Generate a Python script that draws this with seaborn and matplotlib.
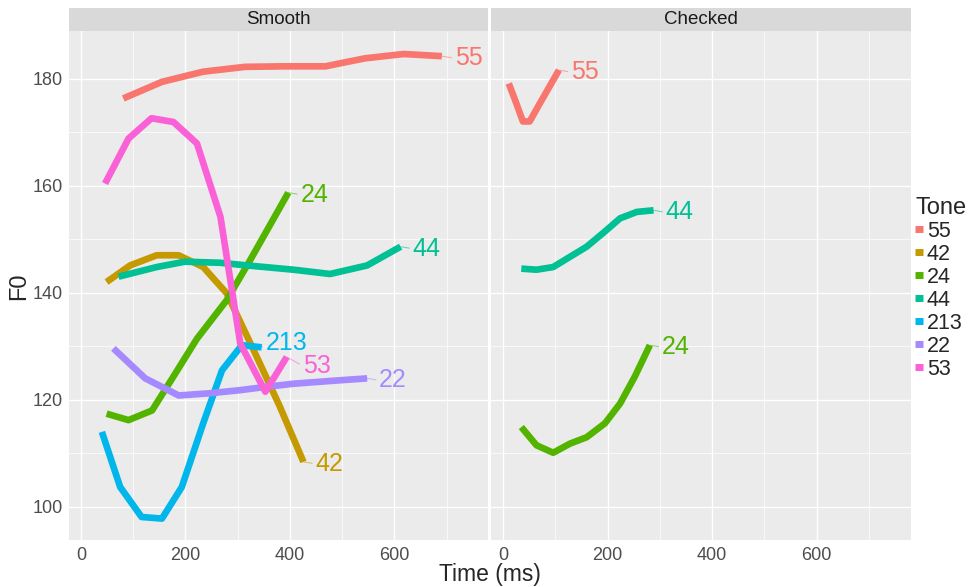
"""
F0 contours by tone, faceted into smooth and checked syllables (ggplot look).
"""

import matplotlib
matplotlib.use('Agg')
import matplotlib.pyplot as plt
from matplotlib.patches import Rectangle
from matplotlib.lines import Line2D
import pandas as pd
import seaborn as sns

# --- data -------------------------------------------------------------
tones = ['55', '42', '24', '44', '213', '22', '53']
tone_colors = ['#F8766D', '#C49A00', '#53B400', '#00C094', '#00B6EB', '#A58AFF', '#FB61D7']
panels = ['Smooth', 'Checked']

smooth_55_time = [81, 155, 234, 314, 390, 468, 544, 618, 691]
smooth_55_f0 = [176.3, 179.4, 181.3, 182.2, 182.3, 182.3, 183.8, 184.6, 184.2]

smooth_42_time = [49, 94, 145, 187, 234, 279, 330, 380, 426]
smooth_42_f0 = [142.0, 145.1, 147.0, 147.0, 144.8, 139.9, 129.4, 118.9, 108.4]

smooth_24_time = [49, 91, 136, 178, 222, 279, 324, 397]
smooth_24_f0 = [117.4, 116.2, 118.0, 124.5, 131.4, 138.6, 146.1, 158.7]

smooth_44_time = [72, 145, 199, 266, 318, 407, 477, 548, 612]
smooth_44_f0 = [143.0, 144.8, 145.8, 145.6, 145.1, 144.3, 143.5, 145.1, 148.6]

smooth_213_time = [40, 75, 116, 155, 193, 234, 270, 308, 346]
smooth_213_f0 = [114.0, 103.7, 98.1, 97.8, 103.7, 115.6, 125.5, 130.2, 129.8]

smooth_22_time = [62, 123, 187, 245, 305, 353, 407, 490, 548]
smooth_22_f0 = [129.6, 124.0, 120.8, 121.2, 121.8, 122.4, 123.0, 123.6, 124.0]

smooth_53_time = [46, 91, 135, 177, 222, 267, 305, 353, 394]
smooth_53_f0 = [160.4, 168.8, 172.6, 171.9, 167.9, 154.2, 130.5, 121.5, 128.0]

checked_55_time = [11, 25, 38, 51, 70, 90, 107]
checked_55_f0 = [179.1, 175.5, 172.0, 172.0, 175.3, 178.7, 181.6]

checked_44_time = [35, 64, 96, 128, 160, 192, 224, 256, 288]
checked_44_f0 = [144.5, 144.3, 144.8, 146.7, 148.6, 151.2, 153.9, 155.1, 155.4]

checked_24_time = [35, 64, 96, 128, 160, 195, 224, 252, 281]
checked_24_f0 = [114.9, 111.5, 110.1, 111.8, 113.0, 115.6, 119.3, 124.3, 130.2]

series = [
    ('Smooth', '55', smooth_55_time, smooth_55_f0),
    ('Smooth', '42', smooth_42_time, smooth_42_f0),
    ('Smooth', '24', smooth_24_time, smooth_24_f0),
    ('Smooth', '44', smooth_44_time, smooth_44_f0),
    ('Smooth', '213', smooth_213_time, smooth_213_f0),
    ('Smooth', '22', smooth_22_time, smooth_22_f0),
    ('Smooth', '53', smooth_53_time, smooth_53_f0),
    ('Checked', '55', checked_55_time, checked_55_f0),
    ('Checked', '44', checked_44_time, checked_44_f0),
    ('Checked', '24', checked_24_time, checked_24_f0),
]

df = pd.concat([
    pd.DataFrame({'Time': t, 'F0': f, 'Tone': tone, 'Panel': panel})
    for panel, tone, t, f in series
], ignore_index=True)

# label offsets from the line end, in pixels (x right, y up)
label_nudge = {('Smooth', '213'): (4, 6), ('Smooth', '53'): (16, -7), ('Smooth', '55'): (13, 0)}

# --- style ------------------------------------------------------------
sns.set_style('white')
plt.rcParams['font.family'] = ['Liberation Sans', 'DejaVu Sans']
palette = dict(zip(tones, tone_colors))

fig = plt.figure(figsize=(9.76, 5.87), dpi=100)
fig.patch.set_facecolor('white')

ax_bottom, ax_height = 1 - 540 / 587, 509 / 587
axes = [
    fig.add_axes([69 / 976, ax_bottom, 419.3 / 976, ax_height]),
    fig.add_axes([491 / 976, ax_bottom, 419.7 / 976, ax_height]),
]

for ax, panel in zip(axes, panels):
    sub = df[df['Panel'] == panel]
    sns.lineplot(data=sub, x='Time', y='F0', hue='Tone', hue_order=tones,
                 palette=palette, linewidth=4.8, sort=False, estimator=None,
                 legend=False, ax=ax)
    for line in ax.lines:
        line.set_solid_capstyle('butt')
        line.set_solid_joinstyle('round')

    # end-of-line labels
    for tone in tones:
        s = sub[sub['Tone'] == tone]
        if s.empty:
            continue
        x_end, y_end = s['Time'].iloc[-1], s['F0'].iloc[-1]
        dx, dy = label_nudge.get((panel, tone), (12, 0))
        ax.annotate(tone, xy=(x_end, y_end), xytext=(dx, dy - 2),
                    textcoords='offset pixels', color=palette[tone],
                    fontsize=18, ha='left', va='center',
                    arrowprops=dict(arrowstyle='-', color=palette[tone], lw=0.7,
                                    alpha=0.6, shrinkA=0, shrinkB=0, relpos=(0, 0.5)))

    ax.set_xlim(-23, 780)
    ax.set_ylim(93.8, 188.9)
    ax.set_xticks([0, 200, 400, 600])
    ax.set_xticks([100, 300, 500, 700], minor=True)
    ax.set_yticks([100, 120, 140, 160, 180])
    ax.set_yticks([110, 130, 150, 170], minor=True)
    ax.set_facecolor('#EBEBEB')
    ax.grid(which='major', color='white', linewidth=1.0)
    ax.grid(which='minor', color='white', linewidth=0.5)
    ax.set_axisbelow(True)
    for sp in ax.spines.values():
        sp.set_visible(False)
    ax.tick_params(which='major', length=2.75, width=0.8, color='#333333',
                   labelcolor='#4D4D4D', labelsize=13, pad=2)
    ax.tick_params(which='minor', length=0)
    ax.set_xlabel('')
    ax.set_ylabel('')

    # facet strip
    strip_h = 23 / 509
    ax.add_patch(Rectangle((0, 1), 1, strip_h, transform=ax.transAxes,
                           facecolor='#D9D9D9', edgecolor='none', clip_on=False))
    ax.text(0.5, 1 + strip_h / 2, panel, transform=ax.transAxes, ha='center',
            va='center', fontsize=13.5, color='#1A1A1A')

axes[1].tick_params(axis='y', left=False, labelleft=False)

fig.text(489.5 / 976, 1 - 575 / 587, 'Time (ms)', ha='center', va='center', fontsize=16.5)
fig.text(19 / 976, 1 - 286 / 587, 'F0', ha='center', va='center', rotation=90, fontsize=17)

handles = [Line2D([0], [0], color=c, lw=5, solid_capstyle='butt') for c in tone_colors]
leg = fig.legend(handles, tones, title='Tone', loc='upper left',
                 bbox_to_anchor=(915 / 976, 1 - 197 / 587), frameon=False,
                 fontsize=15.5, title_fontsize=17, handlelength=0.35,
                 handletextpad=0.2, labelspacing=0.09, borderpad=0,
                 borderaxespad=0, alignment='left')

fig.savefig('out.png', dpi=100)
